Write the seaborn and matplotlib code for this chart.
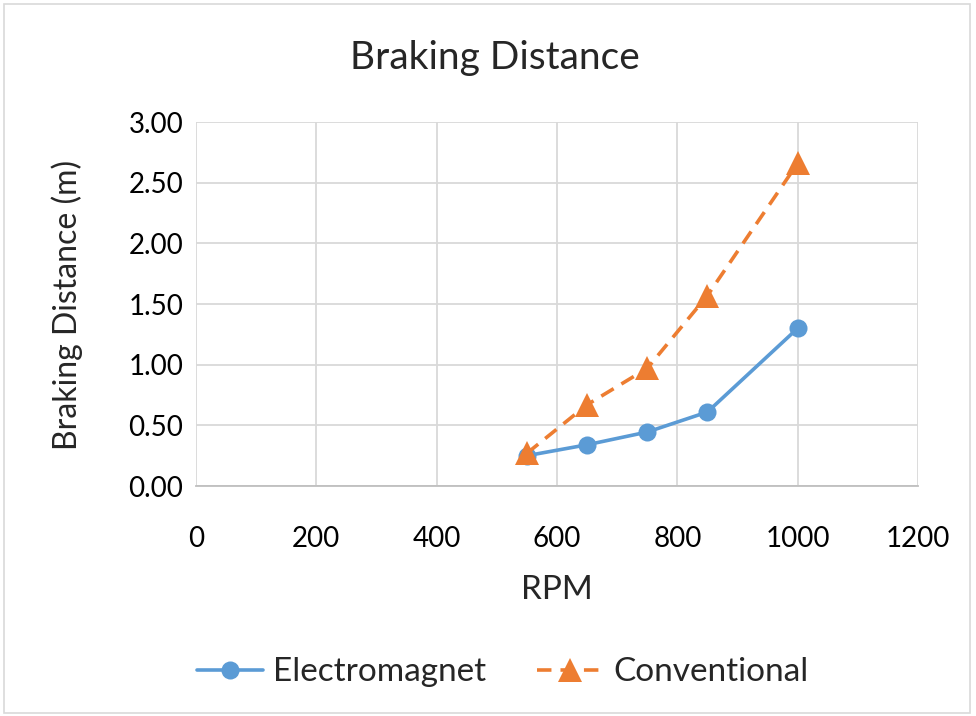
import matplotlib
matplotlib.use("Agg")
import matplotlib.pyplot as plt
import seaborn as sns
import pandas as pd
from matplotlib.patches import Rectangle
from matplotlib.lines import Line2D

rpm = [550, 650, 750, 850, 1000]
electromagnet = [0.25, 0.34, 0.445, 0.61, 1.30]
conventional = [0.27, 0.67, 0.97, 1.57, 2.66]
series_names = ["Electromagnet", "Conventional"]
x_ticks = [0, 200, 400, 600, 800, 1000, 1200]
y_ticks = [0.0, 0.5, 1.0, 1.5, 2.0, 2.5, 3.0]

df = pd.DataFrame({
    "RPM": rpm * 2,
    "Distance": electromagnet + conventional,
    "Series": [series_names[0]] * len(rpm) + [series_names[1]] * len(rpm),
})

sns.set_theme(style="white")
plt.rcParams['font.family'] = ['Lato', 'DejaVu Sans']

BLUE = "#5B9BD5"
ORANGE = "#ED7D31"
LW = 2.6
DASH = (4, 2.5)

fig = plt.figure(figsize=(9.76, 7.16), dpi=100)
ax = fig.add_axes([0.2008, 0.3212, 0.7398, 0.5084])

palette = {"Electromagnet": BLUE, "Conventional": ORANGE}
sns.lineplot(data=df, x="RPM", y="Distance", hue="Series", style="Series",
             palette=palette, markers={"Electromagnet": "o", "Conventional": "^"},
             dashes={"Electromagnet": "", "Conventional": DASH},
             linewidth=LW, markersize=13, markeredgewidth=0, ax=ax, legend=False)
for line in ax.get_lines():
    if line.get_marker() == "^":
        line.set_markersize(17)

ax.set_xlim(0, 1200)
ax.set_ylim(0, 3.0)
ax.set_xticks(x_ticks)
ax.set_yticks(y_ticks)
ax.set_yticklabels([f"{v:.2f}" for v in y_ticks])
ax.grid(True, color="#d9d9d9", linewidth=1.3)
ax.set_axisbelow(True)
for s in ["top", "right", "left"]:
    ax.spines[s].set_visible(False)
ax.spines["bottom"].set_color("#bfbfbf")
ax.spines["bottom"].set_linewidth(1.3)
ax.tick_params(axis="both", length=0, labelsize=20, colors="black")
ax.tick_params(axis="y", pad=9)
ax.tick_params(axis="x", pad=29)

ax.set_xlabel("RPM", fontsize=24)
ax.set_ylabel("Braking Distance (m)", fontsize=23)
ax.xaxis.set_label_coords(0.5, -0.245)
ax.yaxis.set_label_coords(-0.156, 0.497)

fig.text(0.507, 0.919, "Braking Distance", ha="center", va="center", fontsize=28)

handles = [
    Line2D([], [], color=BLUE, marker="o", markersize=13, markeredgewidth=0, linewidth=LW),
    Line2D([], [], color=ORANGE, marker="^", markersize=17, markeredgewidth=0, linewidth=LW, dashes=DASH),
]
fig.legend(handles, series_names, loc="center", bbox_to_anchor=(0.515, 0.061), ncol=2,
           frameon=False, fontsize=24, handlelength=2.0, columnspacing=1.5, handletextpad=0.3)

fig.patches.append(Rectangle((0.004, 0.004), 0.99, 0.99, transform=fig.transFigure,
                             fill=False, edgecolor="#d9d9d9", linewidth=1.2))

fig.savefig("out.png", dpi=100)
